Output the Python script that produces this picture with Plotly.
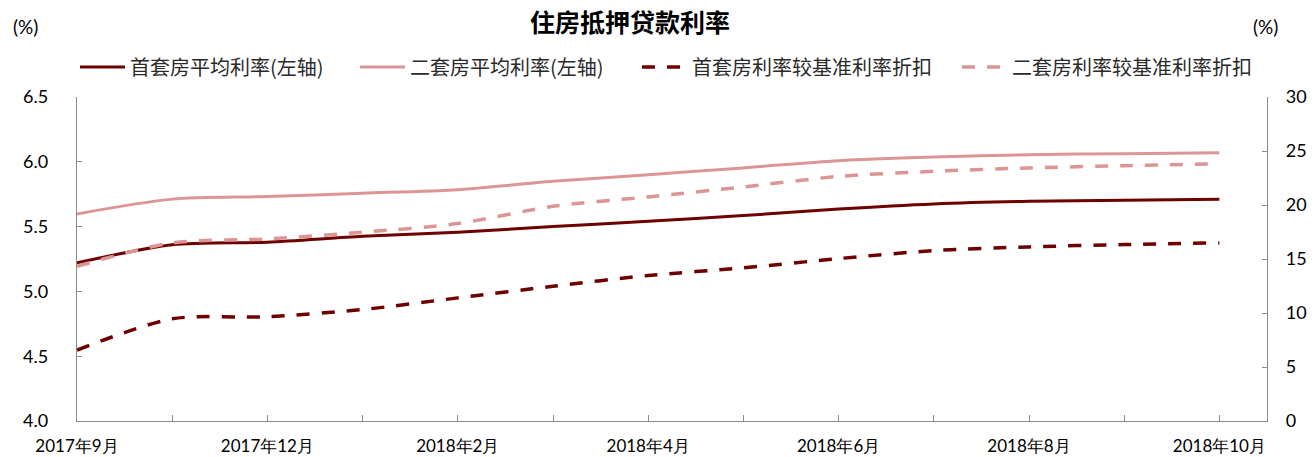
import plotly.graph_objects as go

categories = ["2017年9月", "2017年10月", "2017年12月", "2018年1月", "2018年2月", "2018年3月",
              "2018年4月", "2018年5月", "2018年6月", "2018年7月", "2018年8月", "2018年9月", "2018年10月"]
tick_labels = ["2017年9月", "", "2017年12月", "", "2018年2月", "", "2018年4月", "",
               "2018年6月", "", "2018年8月", "", "2018年10月"]

first_avg = [5.22, 5.36, 5.38, 5.425, 5.456, 5.50, 5.541, 5.585, 5.636, 5.675, 5.695, 5.703, 5.711]
second_avg = [5.598, 5.712, 5.732, 5.758, 5.785, 5.849, 5.90, 5.953, 6.009, 6.037, 6.055, 6.063, 6.07]
first_disc = [6.56, 9.46, 9.65, 10.32, 11.4, 12.48, 13.47, 14.18, 15.04, 15.78, 16.12, 16.34, 16.49]
second_disc = [14.33, 16.49, 16.86, 17.48, 18.28, 19.88, 20.75, 21.67, 22.65, 23.12, 23.43, 23.64, 23.83]

names = ["首套房平均利率(左轴)", "二套房平均利率(左轴)", "首套房利率较基准利率折扣", "二套房利率较基准利率折扣"]

DARK = "#6E0000"
PINK = "#DB9694"
CJK = "Noto Sans CJK SC"
NUM = "Lato, Liberation Sans, sans-serif"
AXC = "#8C8C8C"

fig = go.Figure()
fig.add_trace(go.Scatter(x=categories, y=first_avg, name=names[0], mode="lines",
                         line=dict(color=DARK, width=3, shape="spline", smoothing=0.8),
                         legend="legend"))
fig.add_trace(go.Scatter(x=categories, y=second_avg, name=names[1], mode="lines",
                         line=dict(color=PINK, width=3, shape="spline", smoothing=0.8),
                         legend="legend2"))
fig.add_trace(go.Scatter(x=categories, y=first_disc, name=names[2], mode="lines", yaxis="y2",
                         line=dict(color=DARK, width=3.5, dash="13px,12px", shape="spline", smoothing=0.8),
                         legend="legend3"))
fig.add_trace(go.Scatter(x=categories, y=second_disc, name=names[3], mode="lines", yaxis="y2",
                         line=dict(color=PINK, width=3.5, dash="13px,12px", shape="spline", smoothing=0.8),
                         legend="legend4"))

L, R, T, B = 77, 48, 97, 36
W, H = 1315, 457
PW, PH = W - L - R, H - T - B

leg_common = dict(orientation="h", yanchor="middle", y=1 - 67 / H, yref="container", xref="container",
                  xanchor="left", font=dict(family=CJK, size=20, color="#2a2a2a"),
                  bgcolor="rgba(0,0,0,0)", itemwidth=45)
fig.update_layout(
    width=W, height=H,
    margin=dict(l=L, r=R, t=T, b=B, autoexpand=False),
    plot_bgcolor="white", paper_bgcolor="white",
    showlegend=True,
    title=dict(text="<b>住房抵押贷款利率</b>", x=630 / W, xanchor="center", y=1 - 23 / H, yanchor="middle",
               font=dict(family=CJK, size=25, color="#000000")),
    xaxis=dict(type="category", range=[0, 12.5], tickmode="array", tickvals=categories, ticktext=tick_labels,
               ticks="inside", ticklen=6, tickcolor=AXC, showline=True, linecolor=AXC,
               linewidth=1.3, showgrid=False, zeroline=False, automargin=False, ticklabelstandoff=9,
               tickfont=dict(family=NUM, size=17, color="#000000")),
    yaxis=dict(range=[4, 6.5], dtick=0.5, tickformat=".1f", ticks="inside", ticklen=5, tickcolor=AXC,
               showline=True, linecolor=AXC, linewidth=1.3, showgrid=False, zeroline=False,
               automargin=False, ticklabelstandoff=24,
               tickfont=dict(family=NUM, size=18, color="#000000")),
    yaxis2=dict(range=[0, 30], dtick=5, overlaying="y", side="right", ticks="inside", ticklen=5,
                tickcolor=AXC, showline=True, linecolor=AXC, linewidth=1.3, showgrid=False,
                zeroline=False, automargin=False, ticklabelstandoff=14,
                tickfont=dict(family=NUM, size=18, color="#000000")),
    legend=dict(x=75 / W, **leg_common),
    legend2=dict(x=355 / W, **leg_common),
    legend3=dict(x=637 / W, **leg_common),
    legend4=dict(x=957 / W, **leg_common),
    annotations=[
        dict(text="(%)", x=(25 - L) / PW, y=(H - B - 27) / PH, xref="paper", yref="paper",
             showarrow=False, font=dict(family=NUM, size=19, color="#000000"),
             xanchor="center", yanchor="middle"),
        dict(text="(%)", x=(1265 - L) / PW, y=(H - B - 27) / PH, xref="paper", yref="paper",
             showarrow=False, font=dict(family=NUM, size=19, color="#000000"),
             xanchor="center", yanchor="middle"),
    ],
)

fig.write_html("out.html", config={"displayModeBar": False},
               post_script="document.body.style.margin='0';")
